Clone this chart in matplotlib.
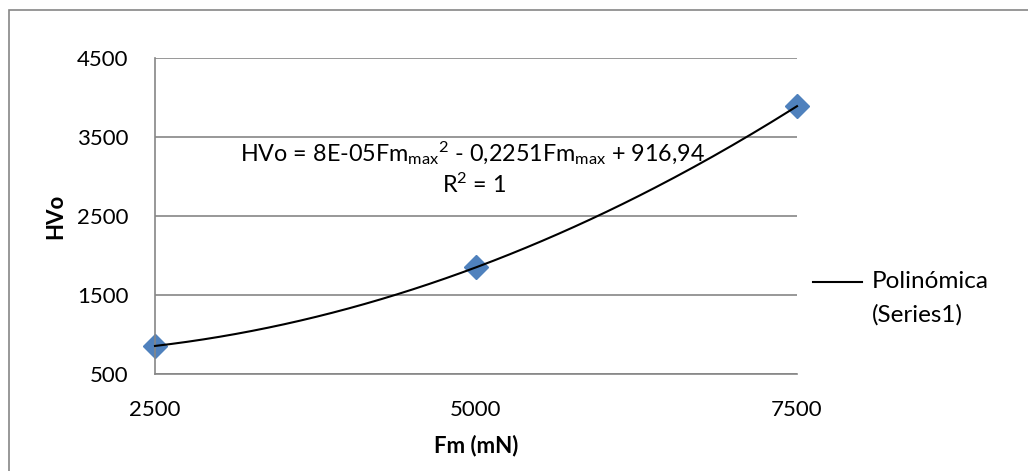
import matplotlib
matplotlib.use("Agg")
import matplotlib.pyplot as plt
from matplotlib.lines import Line2D
from matplotlib.patches import Rectangle
import numpy as np

# data
fm = [2500, 5000, 7500]
hvo = [855, 1850, 3890]
xticks = [2500, 5000, 7500]
yticks = [500, 1500, 2500, 3500, 4500]

plt.rcParams['font.family'] = ['Lato', 'DejaVu Sans']
plt.rcParams['mathtext.fontset'] = 'custom'
plt.rcParams['mathtext.rm'] = 'Lato'
plt.rcParams['mathtext.default'] = 'regular'

grey = '#868686'
fs = 16

fig = plt.figure(figsize=(10.28, 4.71), dpi=100)
ax = fig.add_axes([155 / 1028, 1 - 374 / 471, (797 - 155) / 1028, (374 - 58) / 471])

# polynomial trend line (order 2)
coef = np.polyfit(fm, hvo, 2)
xs = np.linspace(fm[0], fm[-1], 200)
ax.plot(xs, np.polyval(coef, xs), color='black', lw=1.5, zorder=3, clip_on=False)
ax.plot(fm, hvo, linestyle='none', marker='D', ms=12, color='#4F81BD',
        zorder=2, clip_on=False)

ax.set_xlim(2500, 7500)
ax.set_ylim(500, 4500)
ax.set_xticks(xticks)
ax.set_yticks(yticks)
ax.tick_params(length=0, labelsize=fs, pad=19)
ax.grid(axis='y', color=grey, lw=1.2)
ax.set_axisbelow(True)
for s in ['top', 'right']:
    ax.spines[s].set_visible(False)
for s in ['left', 'bottom']:
    ax.spines[s].set_color(grey)
    ax.spines[s].set_linewidth(1.2)

ax.set_xlabel('Fm (mN)', fontsize=fs, fontweight='bold', labelpad=10)
ax.set_ylabel('HVo', fontsize=fs, fontweight='bold', labelpad=8)

ax.text(473 / 1028, 1 - 153 / 471,
        r'HVo = 8E-05Fm$_{max}$$^{2}$ - 0,2251Fm$_{max}$ + 916,94',
        transform=fig.transFigure, ha='center', va='center', fontsize=16.8)
ax.text(474 / 1028, 1 - 185 / 471, r'R$^{2}$ = 1',
        transform=fig.transFigure, ha='center', va='center', fontsize=16.8)

# legend
fig.add_artist(Line2D([813 / 1028, 862 / 1028], [1 - 282 / 471] * 2,
                      color='black', lw=1.5, transform=fig.transFigure))
fig.text(872 / 1028, 1 - 282 / 471, 'Polinómica', va='center', fontsize=17.5)
fig.text(872 / 1028, 1 - 315 / 471, '(Series1)', va='center', fontsize=17.5)

# chart area border
fig.add_artist(Rectangle((8.5 / 1028, -0.1), 1.2, 1 - 9.5 / 471 + 0.1,
                         transform=fig.transFigure, fill=False,
                         edgecolor=grey, lw=1.2))

fig.savefig('out.png', dpi=100)
